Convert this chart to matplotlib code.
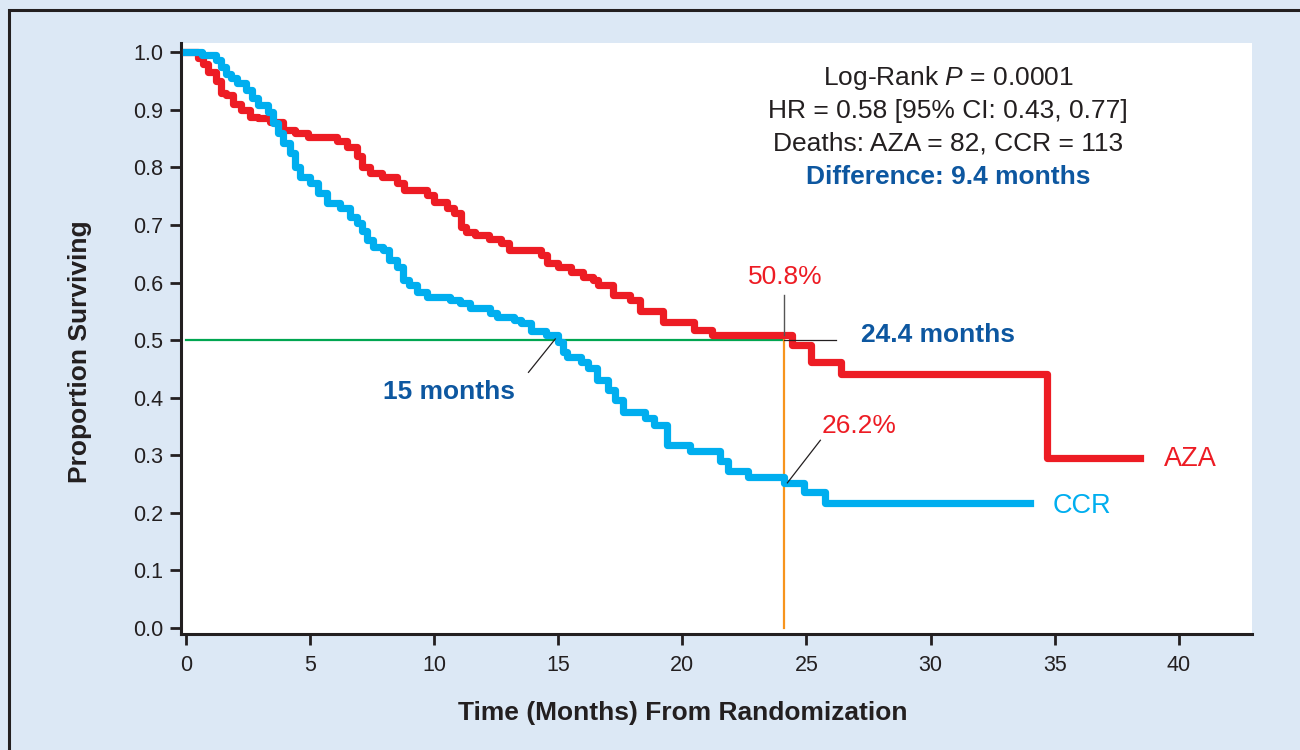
import matplotlib.pyplot as plt
from matplotlib.patches import Rectangle

plt.rcParams['font.family'] = ['Liberation Sans', 'DejaVu Sans']
plt.rcParams['mathtext.fontset'] = 'custom'
plt.rcParams['mathtext.rm'] = 'Liberation Sans'
plt.rcParams['mathtext.it'] = 'Liberation Sans:italic'

# Kaplan-Meier step data (months, proportion surviving)
aza_t = [0, 0.5, 0.7, 0.9, 1.2, 1.4, 1.6, 1.9, 2.2, 2.6, 2.9, 3.4, 3.9, 4.4, 4.9,
         6.1, 6.5, 6.9, 7.1, 7.4, 7.9, 8.5, 8.8, 9.7, 10.0, 10.5, 10.8, 11.1, 11.3,
         11.65, 12.2, 12.7, 13.0, 14.3, 14.55, 15.0, 15.5, 16.0, 16.4, 16.6, 17.2,
         17.9, 18.3, 19.2, 20.45, 21.2, 24.4, 25.2, 26.4, 34.7, 38.45]
aza_s = [1.0, 0.99, 0.98, 0.965, 0.95, 0.93, 0.925, 0.91, 0.90, 0.887, 0.885, 0.878,
         0.865, 0.86, 0.853, 0.845, 0.835, 0.82, 0.80, 0.79, 0.783, 0.772, 0.76,
         0.752, 0.74, 0.73, 0.72, 0.697, 0.688, 0.683, 0.675, 0.668, 0.656, 0.648,
         0.634, 0.627, 0.618, 0.61, 0.604, 0.595, 0.578, 0.57, 0.55, 0.532, 0.517,
         0.508, 0.491, 0.462, 0.441, 0.295, 0.295]

ccr_t = [0, 0.65, 1.2, 1.4, 1.6, 1.8, 2.05, 2.4, 2.65, 2.9, 3.3, 3.5, 3.7, 3.9, 4.2,
         4.4, 4.6, 5.0, 5.3, 5.7, 6.2, 6.6, 6.9, 7.1, 7.3, 7.55, 7.95, 8.2, 8.5, 8.75,
         9.0, 9.3, 9.7, 10.65, 11.05, 11.45, 12.25, 12.55, 13.2, 13.5, 13.9, 14.5,
         15.0, 15.2, 15.35, 15.9, 16.2, 16.55, 17.0, 17.3, 17.6, 18.5, 18.85, 19.4,
         20.3, 21.5, 21.85, 22.65, 24.1, 24.9, 25.75, 34.0]
ccr_s = [1.0, 0.995, 0.986, 0.974, 0.963, 0.955, 0.946, 0.934, 0.92, 0.908, 0.896,
         0.877, 0.86, 0.842, 0.825, 0.80, 0.783, 0.772, 0.755, 0.738, 0.729, 0.714,
         0.703, 0.69, 0.674, 0.662, 0.656, 0.639, 0.627, 0.604, 0.596, 0.584, 0.574,
         0.57, 0.564, 0.555, 0.547, 0.54, 0.535, 0.529, 0.515, 0.509, 0.497, 0.48,
         0.471, 0.462, 0.451, 0.43, 0.413, 0.396, 0.375, 0.364, 0.352, 0.318, 0.308,
         0.29, 0.273, 0.262, 0.251, 0.236, 0.217, 0.217]

x_ticks = [0, 5, 10, 15, 20, 25, 30, 35, 40]
y_ticks = [0.0, 0.1, 0.2, 0.3, 0.4, 0.5, 0.6, 0.7, 0.8, 0.9, 1.0]

median_ccr = 15.0
landmark = 24.1
stats_lines = ['Log-Rank $P$ = 0.0001', 'HR = 0.58 [95% CI: 0.43, 0.77]',
               'Deaths: AZA = 82, CCR = 113']

RED = '#ed1c24'
CYAN = '#00aeef'
BLUE = '#0d57a0'
TXT = '#231f20'
BG = '#dce8f5'

fig = plt.figure(figsize=(13, 7.5), dpi=100, facecolor=BG)
# frame line on top and left of the panel
fig.patches.append(Rectangle((9 / 1300, -0.1), 1.2, 1 - 10 / 750 + 0.1,
                             transform=fig.transFigure, fill=False,
                             edgecolor='#231f20', lw=2.2))

ax = fig.add_axes([181 / 1300, 1 - 634 / 750, (1252 - 181) / 1300, (634 - 43) / 750])
ax.set_facecolor('white')
ax.set_xlim(-0.2, 42.95)
ax.set_ylim(-0.0105, 1.016)

# reference lines
ax.plot([0, landmark], [0.5, 0.5], color='#00a651', lw=1.6, zorder=2)
ax.plot([landmark, landmark], [0, 0.5], color='#f7941d', lw=1.6, zorder=2)

ax.plot(aza_t, aza_s, drawstyle='steps-post', color=RED, lw=5.2, zorder=3)
ax.plot(ccr_t, ccr_s, drawstyle='steps-post', color=CYAN, lw=5.2, zorder=3)

for side in ['top', 'right']:
    ax.spines[side].set_visible(False)
for side in ['left', 'bottom']:
    ax.spines[side].set_linewidth(2.2)
    ax.spines[side].set_color(TXT)

ax.set_xticks(x_ticks)
ax.set_yticks(y_ticks)
ax.set_yticklabels(['%.1f' % v for v in y_ticks])
ax.tick_params(axis='both', direction='out', length=8, width=2, color=TXT,
               labelsize=15.5, labelcolor=TXT)
ax.tick_params(axis='y', pad=5)
ax.tick_params(axis='x', pad=7)

# annotations
ax.plot([median_ccr - 0.12, 13.8], [0.502, 0.444], color=TXT, lw=0.9, zorder=4)
ax.text(10.6, 0.41, '15 months', color=BLUE, fontsize=19, fontweight='bold',
        ha='center', va='center')

ax.plot([landmark, landmark], [0.509, 0.578], color='#555555', lw=1.0, zorder=4)
ax.plot([landmark, 26.2], [0.5, 0.5], color=TXT, lw=0.9, zorder=4)
ax.text(landmark + 0.05, 0.61, '50.8%', color=RED, fontsize=19,
        ha='center', va='center')
ax.text(30.3, 0.509, '24.4 months', color=BLUE, fontsize=19, fontweight='bold',
        ha='center', va='center')

ax.plot([25.56, 24.23], [0.326, 0.252], color=TXT, lw=0.9, zorder=4)
ax.text(27.1, 0.35, '26.2%', color=RED, fontsize=19, ha='center', va='center')

ax.text(39.4, 0.293, 'AZA', color=RED, fontsize=19.5, ha='left', va='center')
ax.text(34.9, 0.212, 'CCR', color=CYAN, fontsize=19.5, ha='left', va='center')

for i, line in enumerate(stats_lines):
    ax.text(30.7, 0.955 - i * 0.057, line, color=TXT, fontsize=19,
            ha='center', va='center')
ax.text(30.7, 0.955 - 3 * 0.057, 'Difference: 9.4 months', color=BLUE,
        fontsize=19, fontweight='bold', ha='center', va='center')

fig.text(683 / 1300, 1 - 713 / 750, 'Time (Months) From Randomization',
         fontsize=19, fontweight='bold', color=TXT, ha='center', va='center')
fig.text(80 / 1300, 1 - 352 / 750, 'Proportion Surviving', rotation=90,
         fontsize=19, fontweight='bold', color=TXT, ha='center', va='center')

fig.savefig('out.png', dpi=100, facecolor=BG)
